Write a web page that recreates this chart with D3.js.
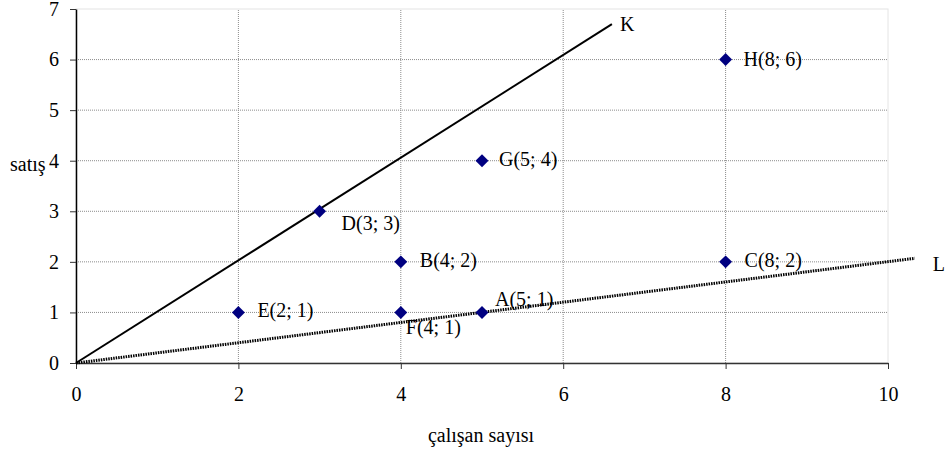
<!DOCTYPE html>
<html><head><meta charset="utf-8">
<script src="https://cdn.jsdelivr.net/npm/d3@7"></script>
<style>
html,body{margin:0;padding:0;background:#fff;}
svg text{font-family:"Liberation Serif","Times New Roman",serif;fill:#000;}
</style></head>
<body><svg id="c" width="945" height="454"></svg>
<script>
// Data
const pointNames = ["A","B","C","D","E","F","G","H"];
const pointX = [5,4,8,3,2,4,5,8];
const pointY = [1,2,2,3,1,1,4,6];
const lineK = [[0,0],[6.6,6.7]];
const lineL = [[0,0],[10.33,2.07]];
const xTicks = [0,2,4,6,8,10];
const yTicks = [0,1,2,3,4,5,6,7];
const xTitle = "çalışan sayısı";
const yTitle = "satış";

// Layout (label offsets in px)
const labelOffset = {A:[13,-6],B:[19,5],C:[19,5],D:[22,19],E:[19,5],F:[5,22],G:[17,5],H:[18,6]};

const svg = d3.select("#c");
const x = d3.scaleLinear().domain([0,10]).range([76,888]);
const y = d3.scaleLinear().domain([0,7]).range([363,9]);

// plot border (light)
svg.append("rect").attr("x",x(0)).attr("y",y(7)).attr("width",x(10)-x(0)).attr("height",y(0)-y(7))
  .attr("fill","none").attr("stroke","#e4e4e4").attr("stroke-width",1);

// gridlines
const g = svg.append("g");
g.selectAll("line.h").data(yTicks.filter(t=>t>0 && t<7)).join("line")
  .attr("x1",x(0)).attr("x2",x(10)).attr("y1",d=>y(d)).attr("y2",d=>y(d))
  .attr("stroke","#8c8c8c").attr("stroke-width",1).attr("stroke-dasharray","1,1");
g.selectAll("line.v").data(xTicks.filter(t=>t>0 && t<10)).join("line")
  .attr("y1",y(0)).attr("y2",y(7)).attr("x1",d=>x(d)).attr("x2",d=>x(d))
  .attr("stroke","#8c8c8c").attr("stroke-width",1).attr("stroke-dasharray","1,1");

// axes
const xAxis = d3.axisBottom(x).tickValues(xTicks).tickFormat(d3.format("d")).tickSize(6).tickPadding(18).tickSizeOuter(0);
const gx = svg.append("g").attr("transform",`translate(0,${y(0)})`).call(xAxis)
  .attr("font-family",null).attr("font-size",null);
gx.select(".domain").attr("stroke","#333").attr("stroke-width",1.3);
gx.selectAll(".tick line").attr("stroke","#333");
gx.selectAll("text").style("font-size","20px").attr("fill","#000");

const yAxis = d3.axisLeft(y).tickValues(yTicks).tickFormat(d3.format("d")).tickSize(6).tickPadding(11).tickSizeOuter(0);
const gy = svg.append("g").attr("transform",`translate(${x(0)},0)`).call(yAxis)
  .attr("font-family",null).attr("font-size",null);
gy.select(".domain").attr("stroke","#000").attr("stroke-width",1.5);
gy.selectAll(".tick line").attr("stroke","#333");
gy.selectAll("text").style("font-size","20px").attr("fill","#000");

// lines
const lg = d3.line().x(d=>x(d[0])).y(d=>y(d[1]));
svg.append("path").attr("d",lg(lineL)).attr("fill","none").attr("stroke","#000")
  .attr("stroke-width",3).attr("stroke-dasharray","1.5,1");
svg.append("path").attr("d",lg(lineK)).attr("fill","none").attr("stroke","#000").attr("stroke-width",2);

svg.append("text").attr("x",x(lineK[1][0])+8).attr("y",y(lineK[1][1])+7).style("font-size","20px").text("K");
svg.append("text").attr("x",x(lineL[1][0])+18).attr("y",y(lineL[1][1])+13).style("font-size","20px").text("L");

// points
const pts = pointNames.map((n,i)=>({n, x:pointX[i], y:pointY[i]}));
const sym = d3.symbol().type(d3.symbolSquare).size(84);
svg.selectAll("path.pt").data(pts).join("path")
  .attr("d",sym).attr("fill","#000080")
  .attr("transform",d=>`translate(${x(d.x)},${y(d.y)}) rotate(45)`);
svg.selectAll("text.lbl").data(pts).join("text")
  .attr("x",d=>x(d.x)+labelOffset[d.n][0]).attr("y",d=>y(d.y)+labelOffset[d.n][1])
  .style("font-size","20px").text(d=>`${d.n}(${d.x}; ${d.y})`);

// titles
svg.append("text").attr("x",481).attr("y",442).attr("text-anchor","middle").style("font-size","20px").text(xTitle);
svg.append("text").attr("x",10).attr("y",171).style("font-size","20px").text(yTitle);
</script></body></html>
